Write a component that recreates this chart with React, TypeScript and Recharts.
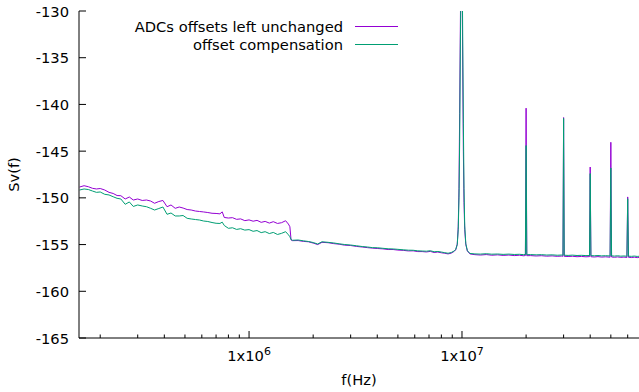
import { LineChart, Line, XAxis, YAxis } from 'recharts'

// frequency grid (kHz), shared by both traces
const FREQ_KHZ = [
  160, 168, 176, 184, 192, 200, 210, 220, 230, 240, 250, 262, 274, 286, 300, 315, 330, 345, 360, 377,
  394, 412, 430, 450, 470, 490, 512, 535, 560, 585, 612, 640, 670, 700, 730, 748, 765, 800, 836, 874,
  913, 955, 1000, 1045, 1090, 1140, 1190, 1245, 1300, 1360, 1420, 1485, 1530, 1555, 1575,
  1600, 1700, 1800, 1900, 2000, 2100, 2200, 2350, 2500, 2650, 2800, 3000, 3200, 3400, 3600, 3800,
  4000, 4250, 4500, 4750, 5000, 5300, 5600, 5900, 6200, 6500, 6800, 7100, 7400, 7700, 8000, 8300,
  8600, 8900,
  9200, 9350, 9500, 9600, 9680, 9750, 9820, 9900, 9950, 10000, 10080, 10150, 10220, 10300, 10420,
  10600, 10900,
  11500, 12200, 13000, 13800, 14700, 15600, 16600, 17600, 18600, 19500, 19850, 20000, 20150, 21000,
  22300, 23600, 25000, 26500, 28000, 29400, 29800, 30000, 30200, 31500, 33000, 34700, 36400, 38200,
  39700, 40000, 40300, 41800, 43500, 45300, 47200, 49600, 50000, 50400, 52000, 53800, 55700, 57600,
  59500, 60000, 60500, 62500, 64500, 66500, 68000,
]

const UNCHANGED = [
  -148.84, -148.7, -148.81, -148.98, -149.05, -149.0, -149.16, -149.41, -149.53, -149.75,
  -149.77, -150.12, -149.91, -150.23, -150.12, -150.28, -150.23, -150.34, -150.58, -150.39,
  -150.28, -150.95, -150.76, -151.12, -150.98, -151.09, -151.25, -151.3, -151.41, -151.46,
  -151.51, -151.57, -151.65, -151.67, -151.71, -151.5, -152.1, -152.16, -152.12, -152.3,
  -152.25, -152.44, -152.36, -152.5, -152.41, -152.62, -152.52, -152.7, -152.55, -152.74,
  -152.66, -152.45, -152.8, -153.09, -154.51,
  -154.58, -154.57, -154.66, -154.7, -154.84, -155.0, -154.76, -154.8, -154.9, -154.96,
  -155.06, -155.1, -155.2, -155.26, -155.33, -155.38, -155.42, -155.46, -155.53, -155.53,
  -155.59, -155.62, -155.68, -155.67, -155.75, -155.75, -155.79, -155.73, -155.85, -155.8,
  -155.88, -155.93, -156.0, -155.92,
  -155.72, -155.55, -154.95, -153.1, -149.0, -141.0, -132.0, -123.0, -118.0, -125.0, -136.0,
  -145.0, -150.5, -153.4, -155.0, -155.7, -156.0,
  -156.08, -156.12, -156.07, -156.14, -156.1, -156.16, -156.12, -156.18, -156.14, -156.2,
  -156.17, -140.4, -156.19, -156.18, -156.22, -156.19, -156.24, -156.21, -156.26, -156.23,
  -156.25, -141.4, -156.26, -156.28, -156.25, -156.3, -156.27, -156.31, -156.29, -146.7,
  -156.3, -156.33, -156.29, -156.34, -156.31, -156.35, -144.05, -156.33, -156.36, -156.32,
  -156.37, -156.34, -156.38, -149.9, -156.36, -156.39, -156.35, -156.4, -156.37,
]

const COMPENSATED = [
  -149.16, -149.05, -149.11, -149.27, -149.41, -149.37, -149.62, -149.69, -149.88, -150.05,
  -150.12, -150.69, -150.44, -150.92, -150.76, -150.87, -150.95, -151.12, -151.3, -151.14,
  -150.98, -151.76, -151.62, -151.94, -151.94, -151.89, -152.19, -152.26, -152.32, -152.37,
  -152.48, -152.53, -152.64, -152.72, -152.74, -152.6, -152.96, -153.26, -153.2, -153.38,
  -153.3, -153.45, -153.4, -153.58, -153.5, -153.72, -153.62, -153.82, -153.7, -153.92,
  -153.8, -153.62, -153.95, -154.16, -154.46,
  -154.54, -154.51, -154.6, -154.67, -154.78, -154.94, -154.7, -154.76, -154.83, -154.92,
  -154.99, -155.05, -155.13, -155.21, -155.26, -155.33, -155.34, -155.4, -155.45, -155.47,
  -155.51, -155.56, -155.6, -155.61, -155.67, -155.69, -155.71, -155.66, -155.77, -155.74,
  -155.8, -155.87, -155.93, -155.85,
  -155.68, -155.5, -155.0, -153.4, -150.0, -144.0, -134.5, -125.0, -118.0, -123.0, -133.0,
  -142.0, -149.0, -153.0, -154.9, -155.65, -155.95,
  -156.0, -156.02, -155.98, -156.03, -156.01, -156.05, -156.02, -156.06, -156.04, -156.08,
  -156.06, -144.4, -156.08, -156.07, -156.1, -156.08, -156.12, -156.1, -156.14, -156.12,
  -156.13, -141.5, -156.14, -156.16, -156.13, -156.17, -156.15, -156.18, -156.17, -147.4,
  -156.18, -156.2, -156.17, -156.21, -156.19, -156.22, -146.8, -156.21, -156.23, -156.2,
  -156.24, -156.22, -156.25, -150.1, -156.24, -156.26, -156.23, -156.27, -156.25,
]

const SERIES_NAMES = ['ADCs offsets left unchanged', 'offset compensation']
const SERIES_COLORS = ['#9400d3', '#009e73']

const X_DOMAIN = [1.59e5, 6.78e7]
const X_MAJOR = [1e6, 1e7]
const X_MINOR = [
  2e5, 3e5, 4e5, 5e5, 6e5, 7e5, 8e5, 9e5,
  2e6, 3e6, 4e6, 5e6, 6e6, 7e6, 8e6, 9e6,
  2e7, 3e7, 4e7, 5e7, 6e7,
]
const Y_DOMAIN = [-165, -130]
const Y_TICKS = [-165, -160, -155, -150, -145, -140, -135, -130]

const FONT = '"DejaVu Sans", sans-serif'
const FS = 14.7

const data = FREQ_KHZ.map((f, i) => ({ f: f * 1000, a: UNCHANGED[i], b: COMPENSATED[i] }))
const xTicks = [...X_MINOR, ...X_MAJOR].sort((p, q) => p - q)

function tickLen(v: number) {
  return X_MAJOR.includes(v) ? 7 : 3.5
}

function BottomTick({ x, y, payload }: any) {
  const v = payload.value
  const exp = Math.round(Math.log10(v))
  return (
    <g>
      <line x1={x} x2={x} y1={y} y2={y - tickLen(v)} stroke="#000" />
      {X_MAJOR.includes(v) && (
        <text x={x} y={y + 23} textAnchor="middle" fontFamily={FONT} fontSize={FS} fill="#000">
          1x10
          <tspan fontSize={11} dy={-6}>
            {exp}
          </tspan>
        </text>
      )}
    </g>
  )
}

function TopTick({ x, y, payload }: any) {
  return <line x1={x} x2={x} y1={y} y2={y + tickLen(payload.value)} stroke="#000" />
}

function LeftTick({ x, y, payload }: any) {
  return (
    <g>
      <line x1={x} x2={x + 7} y1={y} y2={y} stroke="#000" />
      <text x={x - 10} y={y + 5.5} textAnchor="end" fontFamily={FONT} fontSize={FS} fill="#000">
        {payload.value}
      </text>
    </g>
  )
}

function RightTick({ x, y }: any) {
  return <line x1={x} x2={x - 7} y1={y} y2={y} stroke="#000" />
}

function YLabel({ viewBox }: any) {
  const cx = viewBox.x + 19
  const cy = viewBox.y + viewBox.height / 2
  return (
    <text x={cx} y={cy} transform={`rotate(-90 ${cx} ${cy})`} textAnchor="middle" fontFamily={FONT} fontSize={FS} fill="#000">
      Sv(f)
    </text>
  )
}

function XLabel({ viewBox }: any) {
  return (
    <text x={viewBox.x + viewBox.width / 2} y={viewBox.y + 47} textAnchor="middle" fontFamily={FONT} fontSize={FS} fill="#000">
      f(Hz)
    </text>
  )
}

export default function App() {
  return (
    <div style={{ position: 'absolute', left: 0, top: 0, width: 639, height: 392, background: '#fff' }}>
      <LineChart width={639} height={392} data={data} margin={{ top: 11, right: 0, bottom: 0, left: 0 }}>
        <XAxis
          xAxisId="b"
          dataKey="f"
          type="number"
          scale="log"
          domain={X_DOMAIN}
          allowDataOverflow
          ticks={xTicks}
          interval={0}
          height={54}
          tickLine={false}
          tickSize={0}
          tickMargin={0}
          tick={BottomTick}
          axisLine={{ stroke: '#000' }}
          label={{ content: XLabel }}
        />
        <XAxis
          xAxisId="t"
          orientation="top"
          dataKey="f"
          type="number"
          scale="log"
          domain={X_DOMAIN}
          allowDataOverflow
          ticks={xTicks}
          interval={0}
          height={0}
          tickLine={false}
          tickSize={0}
          tickMargin={0}
          tick={TopTick}
          axisLine={{ stroke: '#000' }}
        />
        <YAxis
          yAxisId="l"
          type="number"
          domain={Y_DOMAIN}
          allowDataOverflow
          ticks={Y_TICKS}
          interval={0}
          width={79}
          tickLine={false}
          tickSize={0}
          tickMargin={0}
          tick={LeftTick}
          axisLine={{ stroke: '#000' }}
          label={{ content: YLabel }}
        />
        <YAxis
          yAxisId="r"
          orientation="right"
          type="number"
          domain={Y_DOMAIN}
          allowDataOverflow
          ticks={Y_TICKS}
          interval={0}
          width={0}
          tickLine={false}
          tickSize={0}
          tickMargin={0}
          tick={RightTick}
          axisLine={{ stroke: '#000' }}
        />
        <Line
          xAxisId="b"
          yAxisId="l"
          dataKey="a"
          name={SERIES_NAMES[0]}
          stroke={SERIES_COLORS[0]}
          strokeWidth={1}
          dot={false}
          isAnimationActive={false}
        />
        <Line
          xAxisId="b"
          yAxisId="l"
          dataKey="b"
          name={SERIES_NAMES[1]}
          stroke={SERIES_COLORS[1]}
          strokeWidth={1}
          dot={false}
          isAnimationActive={false}
        />
      </LineChart>
      <div style={{ position: 'absolute', left: 0, top: 17, width: 398, fontFamily: FONT, fontSize: FS, color: '#000' }}>
        {SERIES_NAMES.map((name, i) => (
          <div key={name} style={{ display: 'flex', alignItems: 'center', justifyContent: 'flex-end', height: 18 }}>
            <span>{name}</span>
            <span style={{ display: 'inline-block', width: 43, marginLeft: 12, borderTop: `1px solid ${SERIES_COLORS[i]}` }} />
          </div>
        ))}
      </div>
    </div>
  )
}
